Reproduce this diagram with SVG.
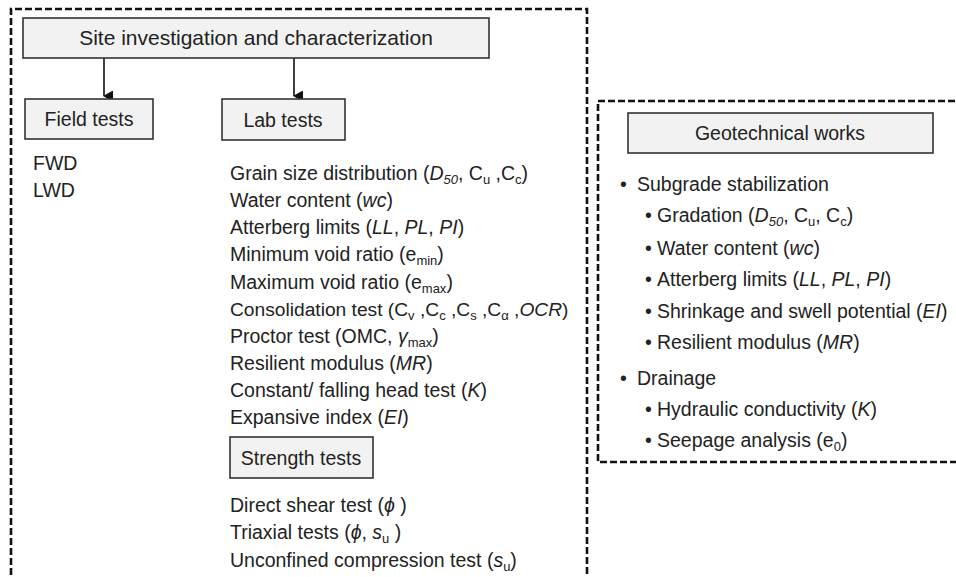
<svg xmlns="http://www.w3.org/2000/svg" width="956" height="577" viewBox="0 0 956 577">
<defs>
<marker id="ah" markerWidth="11" markerHeight="10" refX="5.5" refY="9" orient="auto" markerUnits="userSpaceOnUse">
<path d="M0,0 L11,0 L5.5,10 Z" fill="#111"/>
</marker>
<style>
.t{font-family:"Liberation Sans","Noto Sans",Arial,sans-serif;font-size:19.5px;fill:#222}
.box{fill:#f2f2f2;stroke:#333;stroke-width:1.6}
.dash{fill:none;stroke:#111;stroke-width:2.6;stroke-dasharray:7 3}
.i{font-style:italic}
.s{font-size:13px}
</style>
</defs>
<rect width="956" height="577" fill="#fff"/>
<g id="frames">
<path class="dash" d="M11,585 L11,9 L587,9 L587,585"/>
<path class="dash" d="M965,101 L598,101 L598,462 L965,462"/>
</g>
<g id="connectors">
<line x1="104" y1="58" x2="104" y2="96" stroke="#111" stroke-width="1.6" marker-end="url(#ah)"/>
<line x1="294" y1="58" x2="294" y2="96" stroke="#111" stroke-width="1.6" marker-end="url(#ah)"/>
</g>
<g id="site">
<rect class="box" x="23" y="18" width="466" height="40"/>
<text class="t" x="256" y="45" text-anchor="middle" style="font-size:21px">Site investigation and characterization</text>
</g>
<g id="field">
<rect class="box" x="25" y="99" width="128" height="40"/>
<text class="t" x="89" y="126" text-anchor="middle">Field tests</text>
<text class="t" x="33" y="170">FWD</text>
<text class="t" x="33" y="197">LWD</text>
</g>
<g id="lab">
<rect class="box" x="222" y="99" width="123" height="41"/>
<text class="t" x="283" y="127" text-anchor="middle">Lab tests</text>
<text class="t" x="230" y="180">Grain size distribution (<tspan class="i">D</tspan><tspan class="s i" dy="4">50</tspan><tspan dy="-4">, C</tspan><tspan class="s" dy="4">u</tspan><tspan dy="-4"> ,C</tspan><tspan class="s" dy="4">c</tspan><tspan dy="-4">)</tspan></text>
<text class="t" x="230" y="207">Water content (<tspan class="i">wc</tspan>)</text>
<text class="t" x="230" y="234">Atterberg limits (<tspan class="i">LL</tspan>, <tspan class="i">PL</tspan>, <tspan class="i">PI</tspan>)</text>
<text class="t" x="230" y="261">Minimum void ratio (e<tspan class="s" dy="4">min</tspan><tspan dy="-4">)</tspan></text>
<text class="t" x="230" y="289">Maximum void ratio (e<tspan class="s" dy="4">max</tspan><tspan dy="-4">)</tspan></text>
<text class="t" x="230" y="316" style="font-size:19.2px">Consolidation test (C<tspan class="s" dy="4">v</tspan><tspan dy="-4"> ,C</tspan><tspan class="s" dy="4">c</tspan><tspan dy="-4"> ,C</tspan><tspan class="s" dy="4">s</tspan><tspan dy="-4"> ,C</tspan><tspan class="s" dy="4">α</tspan><tspan dy="-4"> ,</tspan><tspan class="i">OCR</tspan>)</text>
<text class="t" x="230" y="343">Proctor test (OMC, <tspan class="i">γ</tspan><tspan class="s" dy="4">max</tspan><tspan dy="-4">)</tspan></text>
<text class="t" x="230" y="370">Resilient modulus (<tspan class="i">MR</tspan>)</text>
<text class="t" x="230" y="397">Constant/ falling head test (<tspan class="i">K</tspan>)</text>
<text class="t" x="230" y="424">Expansive index (<tspan class="i">EI</tspan>)</text>
</g>
<g id="strength">
<rect class="box" x="230" y="437" width="143" height="41"/>
<text class="t" x="301" y="465" text-anchor="middle">Strength tests</text>
<text class="t" x="230" y="512">Direct shear test (<tspan class="i">ϕ</tspan> )</text>
<text class="t" x="230" y="539">Triaxial tests (<tspan class="i">ϕ</tspan>, <tspan class="i">s</tspan><tspan class="s" dy="4">u</tspan><tspan dy="-4"> )</tspan></text>
<text class="t" x="230" y="567">Unconfined compression test (<tspan class="i">s</tspan><tspan class="s" dy="4">u</tspan><tspan dy="-4">)</tspan></text>
</g>
<g id="geo">
<rect class="box" x="628" y="113" width="305" height="40"/>
<text class="t" x="780" y="140" text-anchor="middle">Geotechnical works</text>
<text class="t" x="620" y="191">•</text><text class="t" x="637" y="191">Subgrade stabilization</text>
<text class="t" x="645" y="222">•</text><text class="t" x="657" y="222">Gradation (<tspan class="i">D</tspan><tspan class="s i" dy="4">50</tspan><tspan dy="-4">, C</tspan><tspan class="s" dy="4">u</tspan><tspan dy="-4">, C</tspan><tspan class="s" dy="4">c</tspan><tspan dy="-4">)</tspan></text>
<text class="t" x="645" y="255">•</text><text class="t" x="657" y="255">Water content (<tspan class="i">wc</tspan>)</text>
<text class="t" x="645" y="286">•</text><text class="t" x="657" y="286">Atterberg limits (<tspan class="i">LL</tspan>, <tspan class="i">PL</tspan>, <tspan class="i">PI</tspan>)</text>
<text class="t" x="645" y="318">•</text><text class="t" x="657" y="318">Shrinkage and swell potential (<tspan class="i">EI</tspan>)</text>
<text class="t" x="645" y="349">•</text><text class="t" x="657" y="349">Resilient modulus (<tspan class="i">MR</tspan>)</text>
<text class="t" x="620" y="385">•</text><text class="t" x="637" y="385">Drainage</text>
<text class="t" x="645" y="416">•</text><text class="t" x="657" y="416">Hydraulic conductivity (<tspan class="i">K</tspan>)</text>
<text class="t" x="645" y="447">•</text><text class="t" x="657" y="447">Seepage analysis (e<tspan class="s" dy="4">0</tspan><tspan dy="-4">)</tspan></text>
</g>
</svg>
